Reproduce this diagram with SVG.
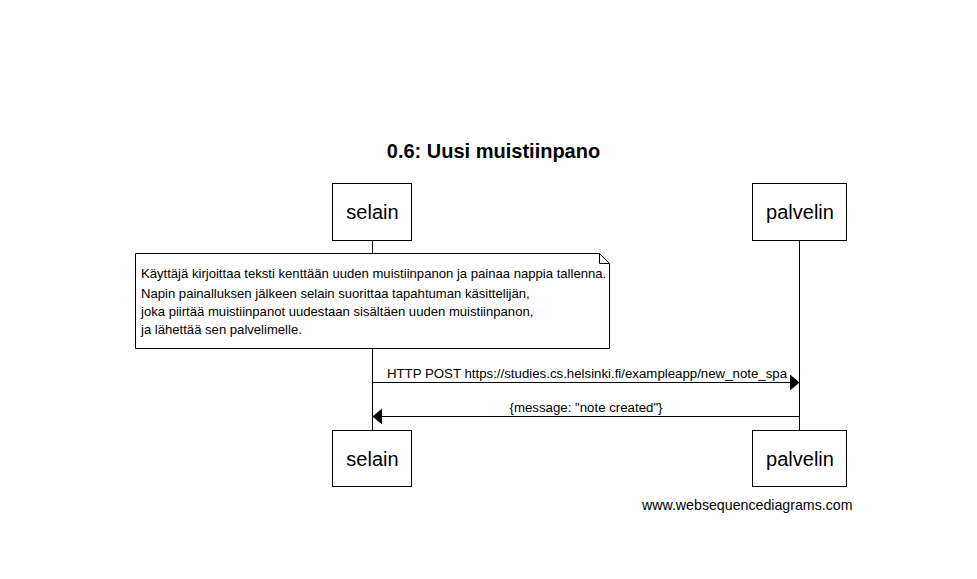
<svg xmlns="http://www.w3.org/2000/svg" width="977" height="579" viewBox="0 0 977 579">
<style>
.box{fill:#fff;stroke:#000;stroke-width:1}
.life{stroke:#000;stroke-width:1;fill:none}
.actor{font-family:"Liberation Sans",Arial,sans-serif;font-size:20px;text-anchor:middle;fill:#000}
.note{font-family:"Liberation Sans",Arial,sans-serif;font-size:13.1px;fill:#000}
.msg{font-family:"Liberation Sans",Arial,sans-serif;font-size:13.25px;text-anchor:middle;fill:#000}
.title{font-family:"Liberation Sans",Arial,sans-serif;font-size:20px;font-weight:bold;text-anchor:middle;fill:#000}
.foot{font-family:"Liberation Sans",Arial,sans-serif;font-size:14.2px;text-anchor:end;fill:#000}
</style>
<rect width="977" height="579" fill="#fff"/>
<text class="title" x="493.5" y="158">0.6: Uusi muistiinpano</text>
<g id="lifelines">
<line class="life" x1="372.5" y1="240" x2="372.5" y2="430"/>
<line class="life" x1="799.5" y1="240" x2="799.5" y2="430"/>
</g>
<g id="selain-top"><rect class="box" x="332.5" y="183.5" width="79" height="57"/><text class="actor" x="372.5" y="219">selain</text></g>
<g id="palvelin-top"><rect class="box" x="752.5" y="183.5" width="94" height="57"/><text class="actor" x="800" y="219">palvelin</text></g>
<g id="note">
<path class="box" d="M135.5,253.5 H599.5 L609.5,263.5 V348.5 H135.5 Z"/>
<path class="life" d="M599.5,253.5 V263.5 H609.5"/>
<text class="note" x="141" y="278">Käyttäjä kirjoittaa teksti kenttään uuden muistiinpanon ja painaa nappia tallenna.</text>
<text class="note" x="141" y="298">Napin painalluksen jälkeen selain suorittaa tapahtuman käsittelijän,</text>
<text class="note" x="141" y="316">joka piirtää muistiinpanot uudestaan sisältäen uuden muistiinpanon,</text>
<text class="note" x="141" y="334">ja lähettää sen palvelimelle.</text>
</g>
<g id="connectors">
<line class="life" x1="372.5" y1="382.5" x2="791" y2="382.5"/>
<polygon points="790,374.5 799.5,382.5 790,390.5" fill="#000"/>
<text class="msg" x="587" y="378">HTTP POST https://studies.cs.helsinki.fi/exampleapp/new_note_spa</text>
<line class="life" x1="799.5" y1="416.5" x2="381" y2="416.5"/>
<polygon points="382,408.5 372.5,416.5 382,424.5" fill="#000"/>
<text class="msg" x="586" y="412">{message: "note created"}</text>
</g>
<g id="selain-bottom"><rect class="box" x="332.5" y="430.5" width="79" height="56"/><text class="actor" x="372.5" y="466">selain</text></g>
<g id="palvelin-bottom"><rect class="box" x="752.5" y="430.5" width="94" height="56"/><text class="actor" x="800" y="466">palvelin</text></g>
<text class="foot" x="852.5" y="510">www.websequencediagrams.com</text>
</svg>
